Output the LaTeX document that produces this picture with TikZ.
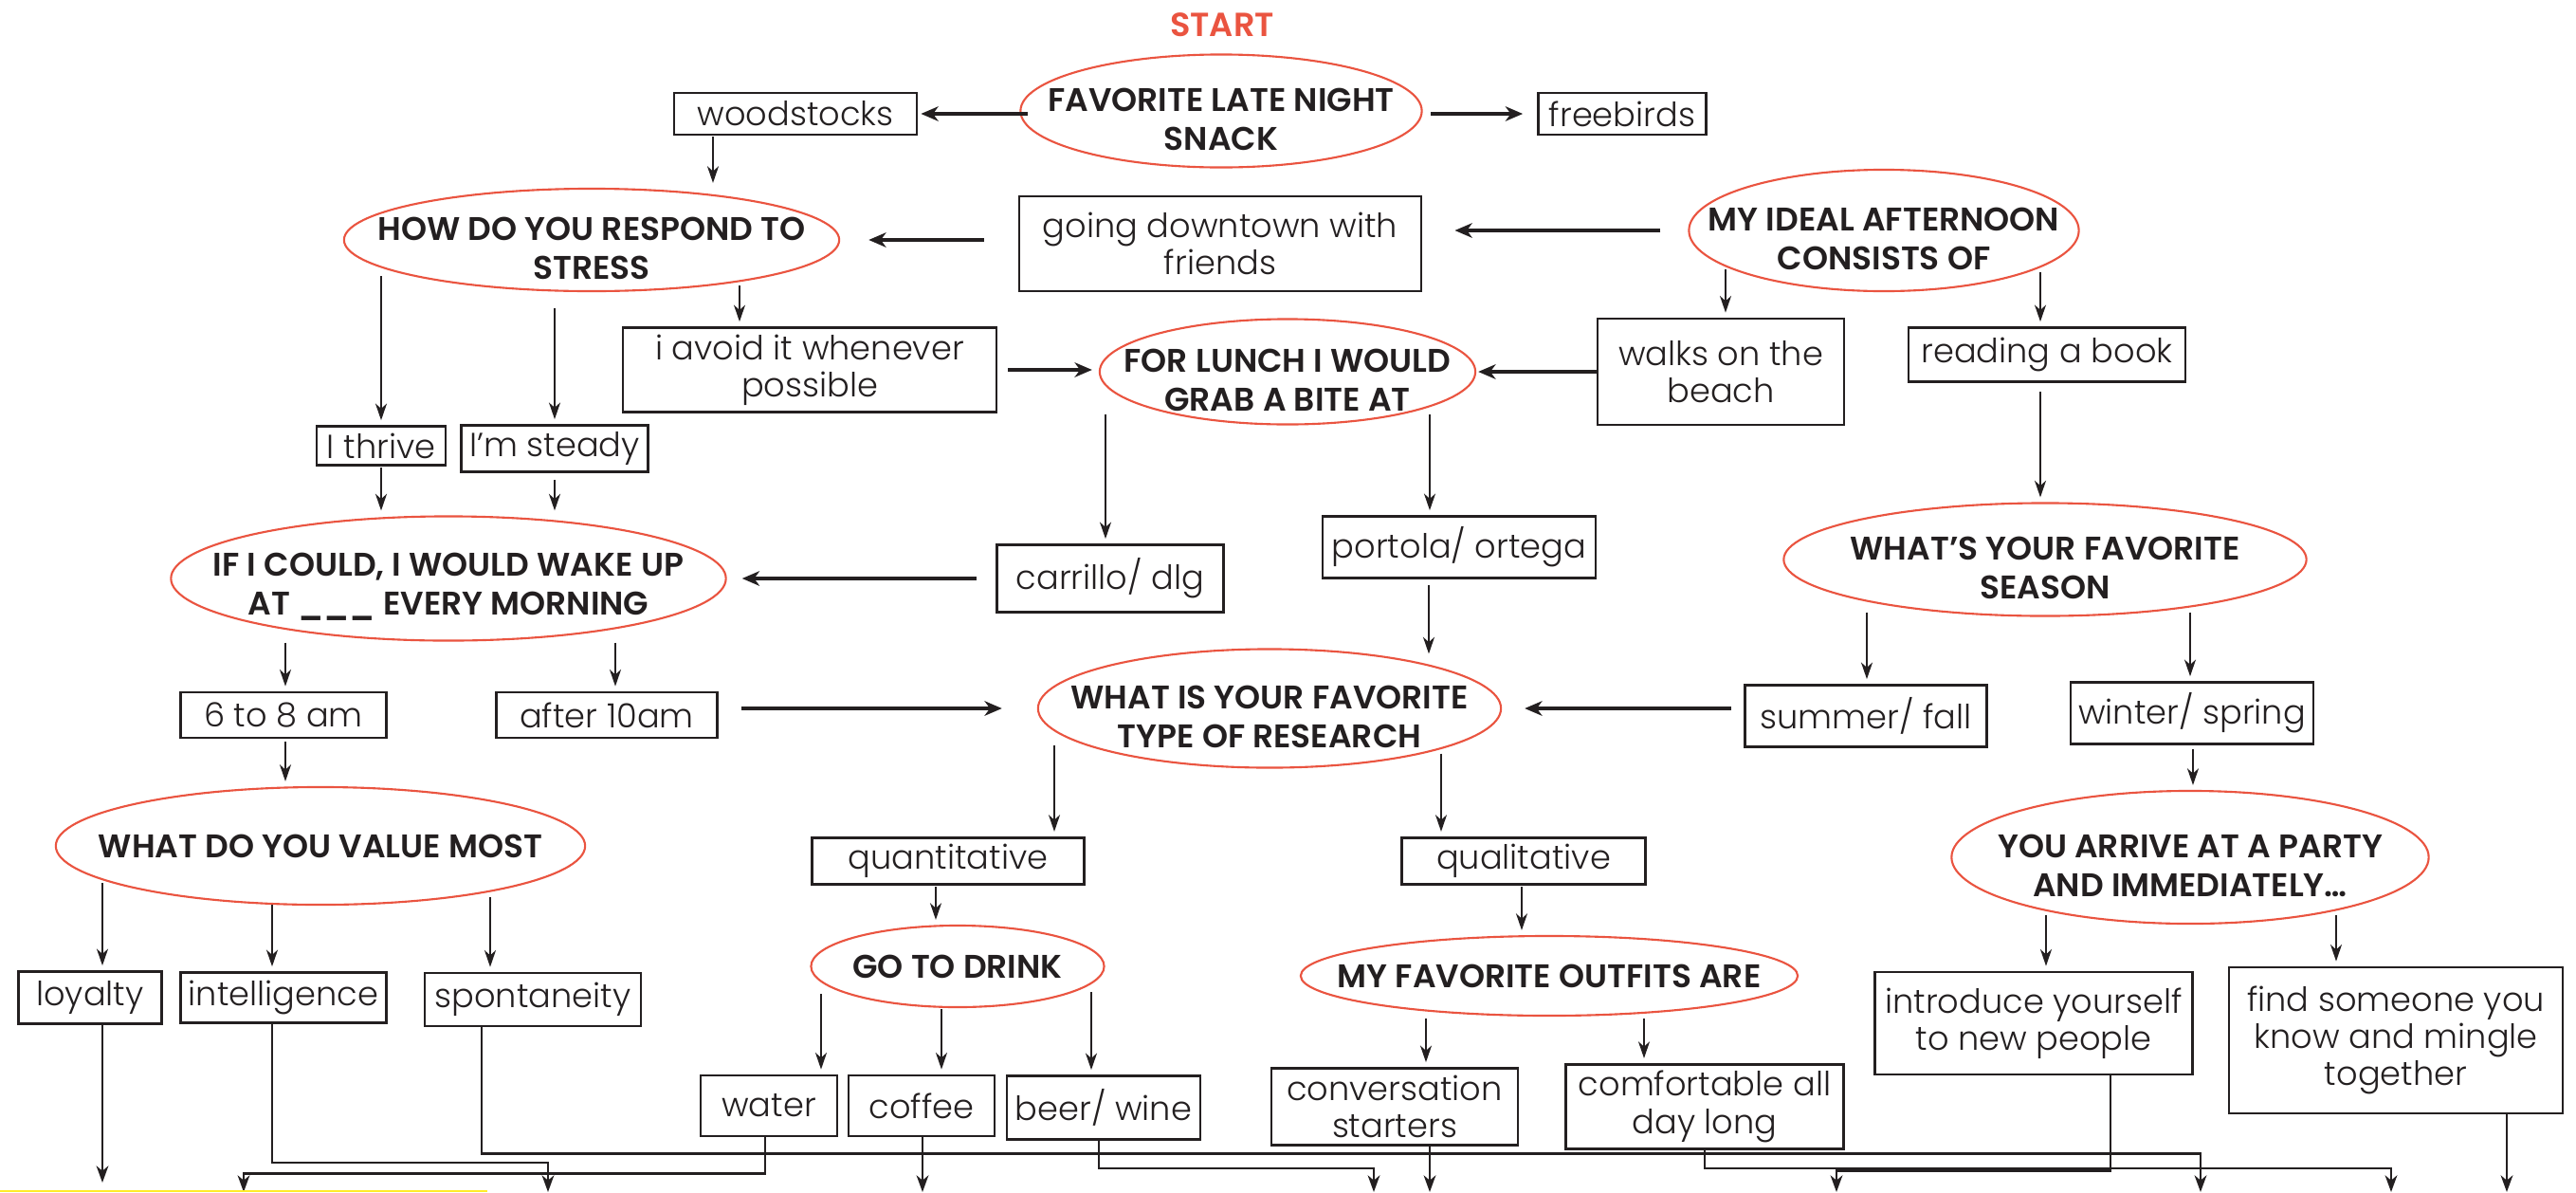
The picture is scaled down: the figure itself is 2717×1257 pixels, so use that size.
\documentclass[tikz,border=0pt]{standalone}
\usepackage{fontspec}
\setmainfont{Poppins}
\IfFontExistsTF{Poppins Light}{\newfontfamily\thinfont{Poppins Light}}{\newfontfamily\thinfont{Poppins}}
\IfFontExistsTF{Poppins SemiBold}{\newfontfamily\heavyfont{Poppins SemiBold}}{\def\heavyfont{\bfseries}}
\usepackage{tikz}
\usetikzlibrary{arrows.meta,shapes.geometric}

\definecolor{ink}{RGB}{35,31,32}
\definecolor{qred}{RGB}{234,84,64}
\definecolor{hilite}{RGB}{255,236,40}

\begin{document}
\begin{tikzpicture}[x=0.01cm, y=-0.01cm,
    question/.style 2 args={ellipse, draw=qred, line width=0.6pt, inner sep=0pt,
                            minimum width=#1cm, minimum height=#2cm},
    qlabel/.style={align=center, text=ink, font=\heavyfont\fontsize{9.8}{11.6}\selectfont},
    qlabel2/.style={qlabel, yshift=-2.6pt},
    answer/.style 2 args={draw=ink, line width=0.75pt, inner sep=2pt, align=center,
                          text=ink, font=\thinfont\fontsize{10}{11.2}\selectfont,
                          minimum width=#1cm, minimum height=#2cm},
    down/.style={draw=ink, line width=0.55pt, shorten >=0.05cm,
                 -{Stealth[length=5pt,width=3.4pt,inset=1.5pt]}},
    across/.style={draw=ink, line width=0.9pt,
                   -{Stealth[length=5.2pt,width=4.4pt,inset=1.6pt]}},
    route/.style={draw=ink, line width=0.75pt,
                  -{Stealth[length=5pt,width=3.6pt,inset=1.5pt]}}]
    \path[use as bounding box, fill=white] (0,0) rectangle (2717,1257);

    % questions
    \node[text=qred, font=\heavyfont\fontsize{10}{11}\selectfont] (start) at (1289,26) {START};
    \node[question={4.23}{1.19}, label={[qlabel2]center:FAVORITE LATE NIGHT\\SNACK}] (snack) at (1288,117) {};
    \node[question={5.22}{1.08}, label={[qlabel2]center:HOW DO YOU RESPOND TO\\STRESS}] (stress) at (624,253) {};
    \node[question={4.11}{1.28}, label={[qlabel2]center:MY IDEAL AFTERNOON\\CONSISTS OF}] (afternoon) at (1987,243) {};
    \node[question={3.96}{1.11}, label={[qlabel2]center:FOR LUNCH I WOULD\\GRAB A BITE AT}] (lunch) at (1358,392) {};
    \node[question={5.85}{1.31}, label={[qlabel2]center:{IF I COULD, I WOULD WAKE UP\\AT \_\_\_ EVERY MORNING}}] (wake) at (473,610) {};
    \node[question={5.51}{1.19}, label={[qlabel2]center:WHAT’S YOUR FAVORITE\\SEASON}] (season) at (2157,590) {};
    \node[question={4.88}{1.25}, label={[qlabel2]center:WHAT IS YOUR FAVORITE\\TYPE OF RESEARCH}] (research) at (1339,747) {};
    \node[question={5.58}{1.24}, label={[qlabel]center:WHAT DO YOU VALUE MOST}] (value) at (338,892) {};
    \node[question={5.03}{1.40}, label={[qlabel2]center:YOU ARRIVE AT A PARTY\\AND IMMEDIATELY…}] (party) at (2310,904) {};
    \node[question={3.09}{0.86}, label={[qlabel]center:GO TO DRINK}] (drink) at (1010,1019) {};
    \node[question={5.24}{0.84}, label={[qlabel]center:MY FAVORITE OUTFITS ARE}] (outfits) at (1634,1029) {};

    % answers
    \node[answer={2.56}{0.44}] (woodstocks) at (839,120) {woodstocks};
    \node[answer={1.77}{0.44}] (freebirds) at (1711,120) {freebirds};
    \node[answer={4.24}{1.00}] (downtown) at (1287,257) {going downtown with\\friends};
    \node[answer={1.36}{0.41}] (thrive) at (402,470) {I thrive};
    \node[answer={1.97}{0.48}] (steady) at (585,473) {I’m steady};
    \node[answer={3.94}{0.88}] (avoid) at (854,390) {i avoid it whenever\\possible};
    \node[answer={2.60}{1.12}] (beach) at (1815,392) {walks on the\\beach};
    \node[answer={2.92}{0.57}] (book) at (2159,374) {reading a book};
    \node[answer={2.39}{0.71}] (carrillo) at (1171,610) {carrillo/ dlg};
    \node[answer={2.88}{0.65}] (portola) at (1539,577) {portola/ ortega};
    \node[answer={2.55}{0.65}] (summer) at (1968,755) {summer/ fall};
    \node[answer={2.56}{0.65}] (winter) at (2312,752) {winter/ spring};
    \node[answer={2.17}{0.48}] (early) at (299,754) {6 to 8 am};
    \node[answer={2.33}{0.48}] (late) at (640,754) {after 10am};
    \node[answer={2.87}{0.46}] (quanti) at (1000,908) {quantitative};
    \node[answer={2.57}{0.45}] (quali) at (1607,908) {qualitative};
    \node[answer={1.51}{0.55}] (loyalty) at (95,1052) {loyalty};
    \node[answer={2.17}{0.53}] (intel) at (299,1052) {intelligence};
    \node[answer={2.28}{0.56}] (spont) at (562,1054) {spontaneity};
    \node[answer={1.44}{0.64}] (water) at (811,1166) {water};
    \node[answer={1.54}{0.64}] (coffee) at (972,1166) {coffee};
    \node[answer={2.04}{0.67}] (beer) at (1164,1168) {beer/ wine};
    \node[answer={2.60}{0.81}] (convo) at (1471,1167) {conversation\\starters};
    \node[answer={2.93}{0.81}] (comfy) at (1798,1167) {comfortable all\\day long};
    \node[answer={3.35}{1.08}] (introduce) at (2145,1079) {introduce yourself\\to new people};
    \node[answer={3.52}{1.54}] (mingle) at (2527,1097) {find someone you\\know and mingle\\together};

    % sideways arrows
    \draw[across, shorten <=-0.09cm, shorten >=0.03cm] (snack.west |- woodstocks) -- (woodstocks.east);
    \draw[across, shorten <=0.085cm, shorten >=0.15cm] (snack.east |- freebirds) -- (freebirds.west);
    \draw[across, shorten <=0.36cm, shorten >=0.30cm] (downtown.west |- stress.east) -- (stress.east);
    \draw[across, shorten <=0.29cm, shorten >=0.34cm] (afternoon.west) -- (afternoon.west -| downtown.east);
    \draw[across, shorten <=0.11cm, shorten >=0.07cm] (avoid.east) -- (avoid.east -| lunch.west);
    \draw[across, shorten >=0.02cm] (beach.west) -- (beach.west -| lunch.east);
    \draw[across, shorten <=0.20cm, shorten >=0.16cm] (carrillo.west) -- (carrillo.west -| wake.east);
    \draw[across, shorten <=0.24cm, shorten >=0.37cm] (late.east |- research.west) -- (research.west);
    \draw[across, shorten <=0.13cm, shorten >=0.24cm] (summer.west |- research.east) -- (research.east);

    % downward arrows
    \draw[down] ([shift={(-87,1)}]woodstocks.south) coordinate (s) -- (s |- stress.north);
    \draw[down] ([shift={(-222,-17)}]stress.south) coordinate (s) -- (s |- thrive.north);
    \draw[down] ([shift={(-39,17)}]stress.south) coordinate (s) -- (s |- steady.north);
    \draw[down] ([shift={(156,-7)}]stress.south) coordinate (s) -- (s |- avoid.north);
    \draw[down] ([shift={(-167,-24)}]afternoon.south) coordinate (s) -- (s |- beach.north);
    \draw[down] ([shift={(165,-21)}]afternoon.south) coordinate (s) -- (s |- book.north);
    \draw[down] ([shift={(-192,-12)}]lunch.south) coordinate (s) -- (s |- carrillo.north);
    \draw[down] ([shift={(150,-12)}]lunch.south) coordinate (s) -- (s |- portola.north);
    \draw[down, shorten >=-0.06cm] ([shift={(-32,6)}]portola.south) coordinate (s) -- (s |- research.north);
    \draw[down] ([shift={(-7,9)}]book.south) coordinate (s) -- (s |- season.north);
    \draw[down] ([shift={(-188,-5)}]season.south) coordinate (s) -- (s |- summer.north);
    \draw[down] ([shift={(153,-5)}]season.south) coordinate (s) -- (s |- winter.north);
    \draw[down] ([shift={(1,4)}]winter.south) coordinate (s) -- (s |- party.north);
    \draw[down] ([shift={(-227,-25)}]research.south) coordinate (s) -- (s |- quanti.north);
    \draw[down] ([shift={(181,-16)}]research.south) coordinate (s) -- (s |- quali.north);
    \draw[down] ([shift={(-13,1)}]quanti.south) coordinate (s) -- (s |- drink.north);
    \draw[down] ([shift={(-2,1)}]quali.south) coordinate (s) -- (s |- outfits.north);
    \draw[down] ([shift={(0,1)}]thrive.south) coordinate (s) -- (s |- wake.north);
    \draw[down] ([shift={(0,7)}]steady.south) coordinate (s) -- (s |- wake.north);
    \draw[down] ([shift={(-172,1)}]wake.south) coordinate (s) -- (s |- early.north);
    \draw[down] ([shift={(176,1)}]wake.south) coordinate (s) -- (s |- late.north);
    \draw[down] ([shift={(2,3)}]early.south) coordinate (s) -- (s |- value.north);
    \draw[down] ([shift={(-230,-24)}]value.south) coordinate (s) -- (s |- loyalty.north);
    \draw[down] ([shift={(-51,-1)}]value.south) coordinate (s) -- (s |- intel.north);
    \draw[down] ([shift={(179,-9)}]value.south) coordinate (s) -- (s |- spont.north);
    \draw[down] ([shift={(-144,-15)}]drink.south) coordinate (s) -- (s |- water.north);
    \draw[down] ([shift={(-17,1)}]drink.south) coordinate (s) -- (s |- coffee.north);
    \draw[down] ([shift={(141,-17)}]drink.south) coordinate (s) -- (s |- beer.north);
    \draw[down] ([shift={(-130,2)}]outfits.south) coordinate (s) -- (s |- convo.north);
    \draw[down] ([shift={(100,2)}]outfits.south) coordinate (s) -- (s |- comfy.north);
    \draw[down] ([shift={(-152,-10)}]party.south) coordinate (s) -- (s |- introduce.north);
    \draw[down] ([shift={(154,-10)}]party.south) coordinate (s) -- (s |- mingle.north);

    % lines running off the bottom
    \coordinate (out1) at (108,1247);
    \coordinate (out2) at (578,1257);
    \coordinate (out3) at (257,1257);
    \coordinate (out4) at (2321,1257);
    \coordinate (out5) at (973,1257);
    \coordinate (out6) at (1449,1257);
    \coordinate (out7) at (1508,1257);
    \coordinate (out8) at (2522,1257);
    \coordinate (out9) at (1937,1257);
    \coordinate (out10) at (2644,1257);
    \draw[route] (out1 |- loyalty.south) -- (out1);
    \draw[route] ([shift={(-12,0)}]intel.south) -- ++(0,146) -| (out2);
    \draw[route] ([shift={(-4,0)}]water.south) -- ++(0,38) -| (out3);
    \draw[route] ([shift={(-54,0)}]spont.south) -- ++(0,133) -| (out4);
    \draw[route] (out5 |- coffee.south) -- (out5);
    \draw[route] ([shift={(-5,0)}]beer.south) -- ++(0,29) -| (out6);
    \draw[route] (out7 |- convo.south) -- (out7);
    \draw[route] (comfy.south) -- ++(0,19) -| (out8);
    \draw[route] ([shift={(81,0)}]introduce.south) -- ++(0,100) -| (out9);
    \draw[route] (out10 |- mingle.south) -- (out10);

    \draw[hilite, line width=0.7pt] (0,1256) -- (514,1256);
\end{tikzpicture}
\end{document}
